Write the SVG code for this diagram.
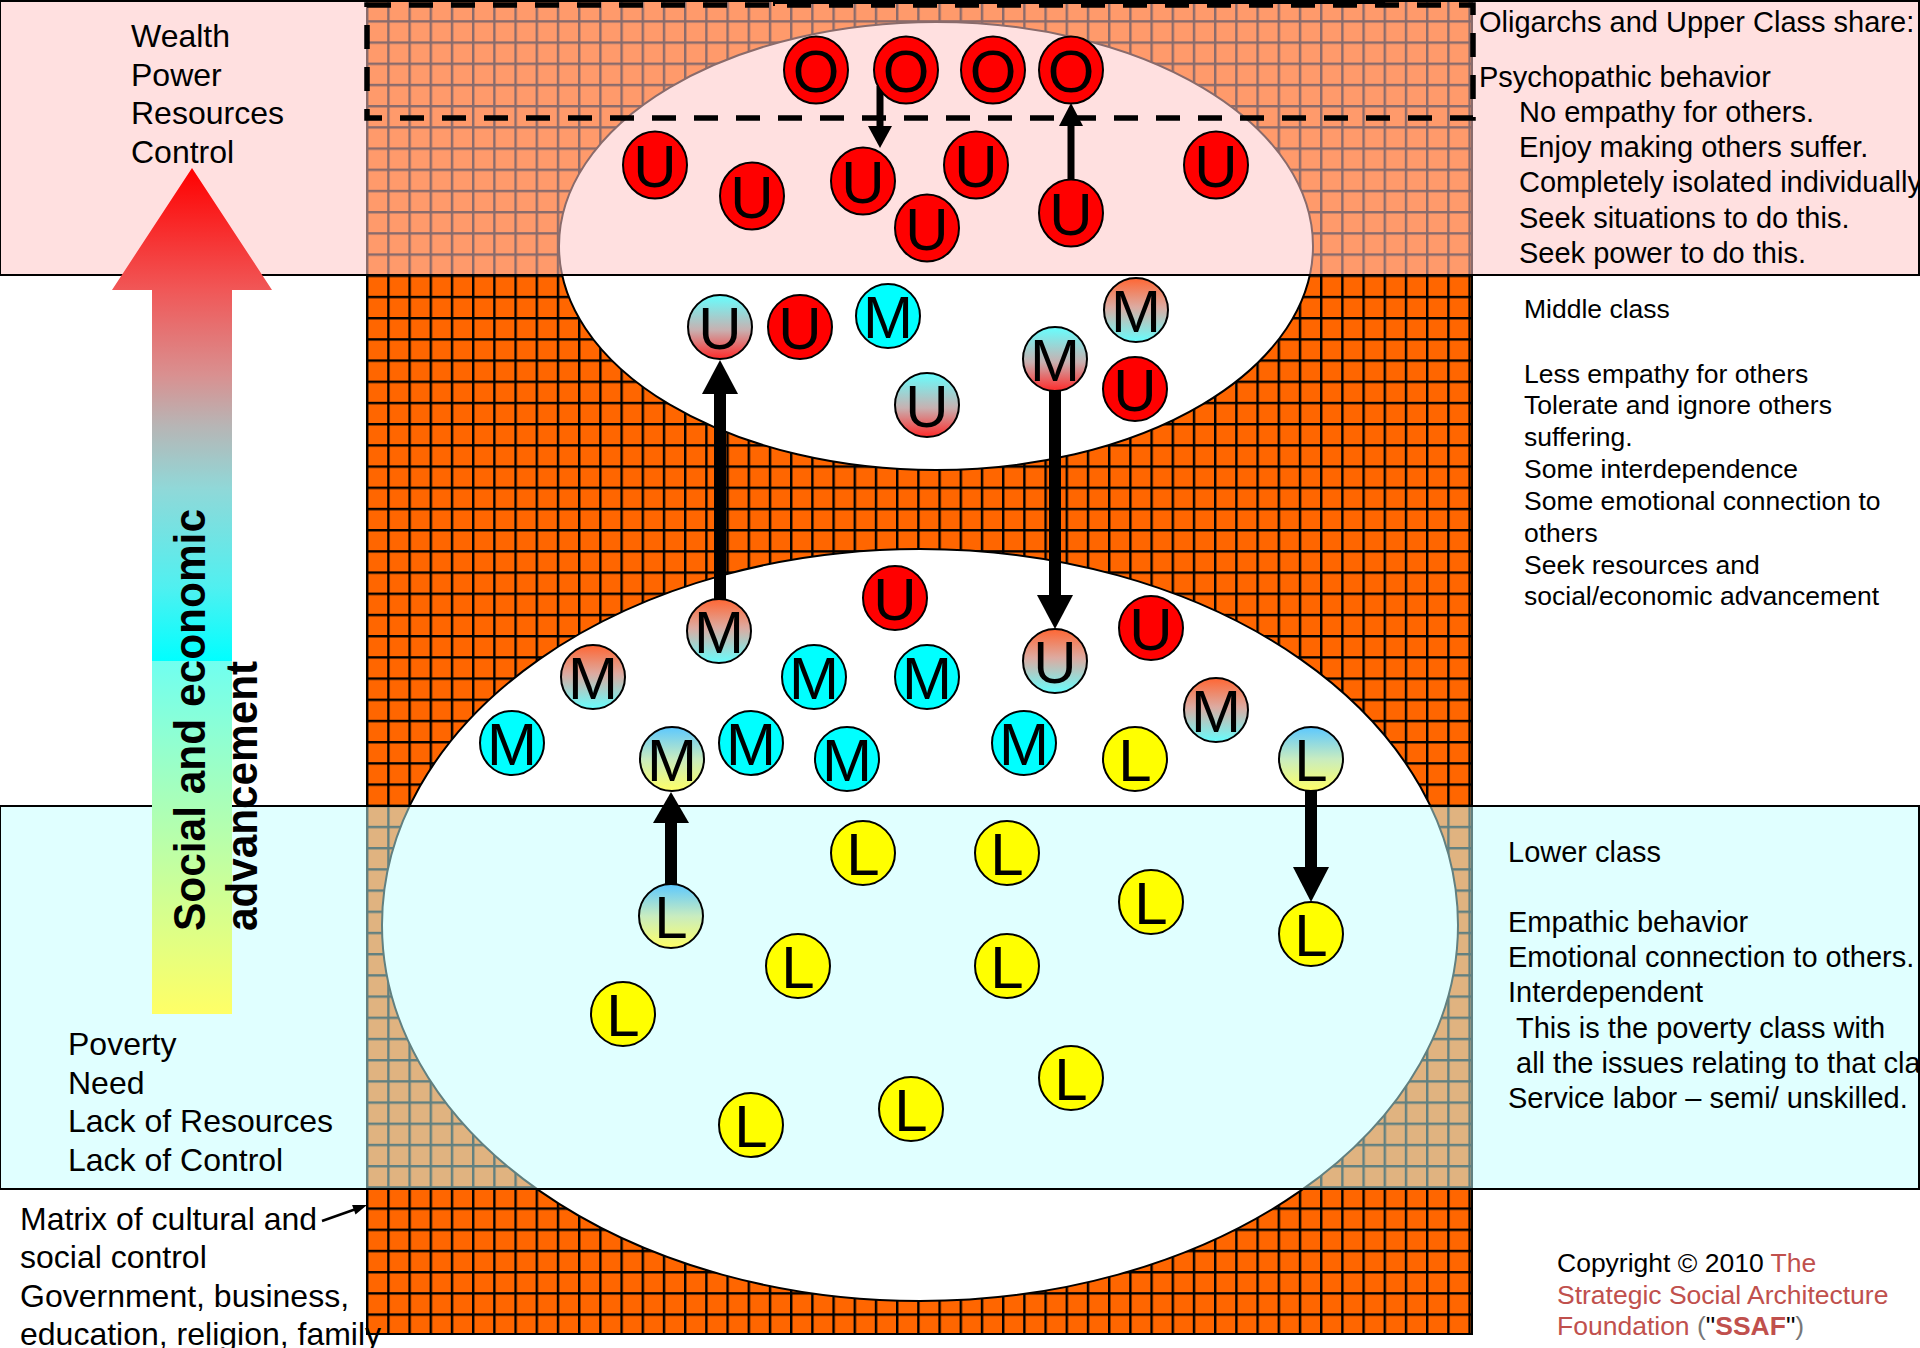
<svg xmlns="http://www.w3.org/2000/svg" width="1920" height="1348" viewBox="0 0 1920 1348">
<style>
.t{font-family:"Liberation Sans",Arial,sans-serif;fill:#000}
.f32{font-size:32px}
.f29{font-size:29px}
.f26{font-size:26.5px}
.nd circle,.nd ellipse{stroke:#000;stroke-width:2}
.lt{font-family:"Liberation Sans",Arial,sans-serif;font-size:60px;text-anchor:middle;fill:#000}
.red{fill:#FF0000}
.cy{fill:#00FFFF}
.ye{fill:#FFFF00}
.oc{fill:url(#gOC)}
.cr{fill:url(#gCR)}
.by{fill:url(#gBY)}
.ar{fill:#000;stroke:none}
.sh{stroke:#000;fill:none}
</style>
<defs>
<pattern id="grid" patternUnits="userSpaceOnUse" x="366" y="-1" width="21.2" height="21.2">
<rect width="21.2" height="21.2" fill="#FF6600"/>
<path d="M0 1.2H21.2M1.2 0V21.2" stroke="#000" stroke-width="2.4" fill="none"/>
</pattern>
<linearGradient id="gOC" x1="0" y1="0" x2="0" y2="1"><stop offset="0" stop-color="#FF6633"/><stop offset="0.45" stop-color="#DDAAA0"/><stop offset="1" stop-color="#66FFFF"/></linearGradient>
<linearGradient id="gCR" x1="0" y1="0" x2="0" y2="1"><stop offset="0" stop-color="#66FFFF"/><stop offset="0.55" stop-color="#C8B0B0"/><stop offset="1" stop-color="#FF2A2A"/></linearGradient>
<linearGradient id="gBY" x1="0" y1="0" x2="0" y2="1"><stop offset="0" stop-color="#5CC8FF"/><stop offset="0.5" stop-color="#C8ECC0"/><stop offset="1" stop-color="#FFFF66"/></linearGradient>
<linearGradient id="gA" gradientUnits="userSpaceOnUse" x1="0" y1="168" x2="0" y2="661"><stop offset="0" stop-color="#FF0000"/><stop offset="0.25" stop-color="#F05858"/><stop offset="0.42" stop-color="#D99090"/><stop offset="0.52" stop-color="#B8B4B4"/><stop offset="0.65" stop-color="#90D8D8"/><stop offset="0.85" stop-color="#50F0F0"/><stop offset="1" stop-color="#00FFFF"/></linearGradient>
<linearGradient id="gB" gradientUnits="userSpaceOnUse" x1="0" y1="661" x2="0" y2="1014"><stop offset="0" stop-color="#70FFF0"/><stop offset="1" stop-color="#FFFF66"/></linearGradient>
</defs>
<rect width="1920" height="1348" fill="#fff"/>
<g id="matrix">
<rect x="367" y="0" width="1105" height="1334" fill="url(#grid)" stroke="#000" stroke-width="2"/>
</g>
<g id="upper-ellipse"><ellipse cx="936" cy="246" rx="377" ry="224" fill="#fff" stroke="#000" stroke-width="2"/></g>
<g id="lower-ellipse"><ellipse cx="920" cy="925" rx="538" ry="376" fill="#fff" stroke="#000" stroke-width="2"/></g>
<g id="upper-band"><rect x="0" y="1" width="1919" height="274" fill="#FFC5C5" fill-opacity="0.54" stroke="#000" stroke-width="2"/></g>
<g id="lower-band"><rect x="0" y="806" width="1919" height="383" fill="#C1FFFF" fill-opacity="0.5" stroke="#000" stroke-width="2"/></g>
<path d="M774 0V6M774 3H1384M1384 0V6" stroke="#000" stroke-width="2" fill="none"/>
<g id="oligarch-box"><rect x="367" y="5" width="1106" height="113" fill="none" stroke="#000" stroke-width="5.5" stroke-dasharray="24 18"/></g>

<g id="advancement-arrow">
<polygon points="192,168 272,290 232,290 232,661 152,661 152,290 112,290" fill="url(#gA)"/>
<rect x="152" y="661" width="80" height="353" fill="url(#gB)"/>
<text class="t" font-weight="bold" font-size="44" transform="translate(205,931) rotate(-90)" textLength="422" lengthAdjust="spacingAndGlyphs">Social and economic</text>
<text class="t" font-weight="bold" font-size="44" transform="translate(257,931) rotate(-90)" textLength="270" lengthAdjust="spacingAndGlyphs">advancement</text>
</g>

<g id="connectors">
<line class="sh" x1="720" y1="599" x2="720" y2="392" stroke-width="12"/>
<polygon class="ar" points="720,360 738,394 702,394"/>
<line class="sh" x1="1055" y1="391" x2="1055" y2="597" stroke-width="12"/>
<polygon class="ar" points="1055,629 1073,595 1037,595"/>
<line class="sh" x1="671" y1="884" x2="671" y2="821" stroke-width="12"/>
<polygon class="ar" points="671,792 689,823 653,823"/>
<line class="sh" x1="1311" y1="791" x2="1311" y2="869" stroke-width="12"/>
<polygon class="ar" points="1311,902 1329,867 1293,867"/>
<line class="sh" x1="880" y1="86" x2="880" y2="128" stroke-width="7"/>
<polygon class="ar" points="880,148 892,126 868,126"/>
<line class="sh" x1="1071" y1="181" x2="1071" y2="124" stroke-width="7"/>
<polygon class="ar" points="1071,103 1083,126 1059,126"/>
<line class="sh" x1="322" y1="1221" x2="356" y2="1209" stroke-width="2.5"/>
<polygon class="ar" points="367,1205 355.5,1214.4 352.1,1205"/>
</g>

<g id="oligarchs">
<g id="o1" class="nd"><ellipse class="red" cx="816" cy="70" rx="32" ry="33.5"/><text class="lt" x="816" y="91.5">O</text></g>
<g id="o2" class="nd"><ellipse class="red" cx="906" cy="70" rx="32" ry="33.5"/><text class="lt" x="906" y="91.5">O</text></g>
<g id="o3" class="nd"><ellipse class="red" cx="993" cy="70" rx="32" ry="33.5"/><text class="lt" x="993" y="91.5">O</text></g>
<g id="o4" class="nd"><ellipse class="red" cx="1071" cy="70" rx="32" ry="33.5"/><text class="lt" x="1071" y="91.5">O</text></g>
</g>
<g id="upper-class">
<g id="u1" class="nd"><ellipse class="red" cx="655" cy="165" rx="32" ry="33.5"/><text class="lt" x="655" y="186.5">U</text></g>
<g id="u2" class="nd"><ellipse class="red" cx="752" cy="196" rx="32" ry="33.5"/><text class="lt" x="752" y="217.5">U</text></g>
<g id="u3" class="nd"><ellipse class="red" cx="863" cy="181" rx="32" ry="33.5"/><text class="lt" x="863" y="202.5">U</text></g>
<g id="u4" class="nd"><ellipse class="red" cx="927" cy="228" rx="32" ry="33.5"/><text class="lt" x="927" y="249.5">U</text></g>
<g id="u5" class="nd"><ellipse class="red" cx="976" cy="165" rx="32" ry="33.5"/><text class="lt" x="976" y="186.5">U</text></g>
<g id="u6" class="nd"><ellipse class="red" cx="1071" cy="213" rx="32" ry="33.5"/><text class="lt" x="1071" y="234.5">U</text></g>
<g id="u7" class="nd"><ellipse class="red" cx="1216" cy="165" rx="32" ry="33.5"/><text class="lt" x="1216" y="186.5">U</text></g>
<g id="u8" class="nd"><circle class="cr" cx="720" cy="327" r="32"/><text class="lt" x="720" y="348.5">U</text></g>
<g id="u9" class="nd"><circle class="red" cx="800" cy="327" r="32"/><text class="lt" x="800" y="348.5">U</text></g>
<g id="m1" class="nd"><circle class="cy" cx="888" cy="316" r="32"/><text class="lt" x="888" y="337.5">M</text></g>
<g id="m2" class="nd"><circle class="oc" cx="1136" cy="310" r="32"/><text class="lt" x="1136" y="331.5">M</text></g>
<g id="m3" class="nd"><circle class="cr" cx="1055" cy="359" r="32"/><text class="lt" x="1055" y="380.5">M</text></g>
<g id="u10" class="nd"><circle class="red" cx="1135" cy="389" r="32"/><text class="lt" x="1135" y="410.5">U</text></g>
<g id="u11" class="nd"><circle class="cr" cx="927" cy="405" r="32"/><text class="lt" x="927" y="426.5">U</text></g>
</g>
<g id="middle-class">
<g id="m4" class="nd"><circle class="oc" cx="719" cy="631" r="32"/><text class="lt" x="719" y="652.5">M</text></g>
<g id="u12" class="nd"><circle class="red" cx="895" cy="598" r="32"/><text class="lt" x="895" y="619.5">U</text></g>
<g id="m5" class="nd"><circle class="oc" cx="593" cy="677" r="32"/><text class="lt" x="593" y="698.5">M</text></g>
<g id="m6" class="nd"><circle class="cy" cx="814" cy="677" r="32"/><text class="lt" x="814" y="698.5">M</text></g>
<g id="m7" class="nd"><circle class="cy" cx="927" cy="677" r="32"/><text class="lt" x="927" y="698.5">M</text></g>
<g id="u13" class="nd"><circle class="oc" cx="1055" cy="661" r="32"/><text class="lt" x="1055" y="682.5">U</text></g>
<g id="u14" class="nd"><circle class="red" cx="1151" cy="628" r="32"/><text class="lt" x="1151" y="649.5">U</text></g>
<g id="m8" class="nd"><circle class="cy" cx="512" cy="743" r="32"/><text class="lt" x="512" y="764.5">M</text></g>
<g id="m9" class="nd"><circle class="by" cx="672" cy="759" r="32"/><text class="lt" x="672" y="780.5">M</text></g>
<g id="m10" class="nd"><circle class="cy" cx="751" cy="743" r="32"/><text class="lt" x="751" y="764.5">M</text></g>
<g id="m11" class="nd"><circle class="cy" cx="847" cy="759" r="32"/><text class="lt" x="847" y="780.5">M</text></g>
<g id="m12" class="nd"><circle class="cy" cx="1024" cy="743" r="32"/><text class="lt" x="1024" y="764.5">M</text></g>
<g id="l1" class="nd"><circle class="ye" cx="1135" cy="759" r="32"/><text class="lt" x="1135" y="780.5">L</text></g>
<g id="m13" class="nd"><circle class="oc" cx="1216" cy="710" r="32"/><text class="lt" x="1216" y="731.5">M</text></g>
<g id="l2" class="nd"><circle class="by" cx="1311" cy="759" r="32"/><text class="lt" x="1311" y="780.5">L</text></g>
</g>
<g id="lower-class">
<g id="l3" class="nd"><circle class="by" cx="671" cy="916" r="32"/><text class="lt" x="671" y="937.5">L</text></g>
<g id="l4" class="nd"><circle class="ye" cx="863" cy="853" r="32"/><text class="lt" x="863" y="874.5">L</text></g>
<g id="l5" class="nd"><circle class="ye" cx="1007" cy="853" r="32"/><text class="lt" x="1007" y="874.5">L</text></g>
<g id="l6" class="nd"><circle class="ye" cx="1151" cy="902" r="32"/><text class="lt" x="1151" y="923.5">L</text></g>
<g id="l7" class="nd"><circle class="ye" cx="1311" cy="934" r="32"/><text class="lt" x="1311" y="955.5">L</text></g>
<g id="l8" class="nd"><circle class="ye" cx="798" cy="966" r="32"/><text class="lt" x="798" y="987.5">L</text></g>
<g id="l9" class="nd"><circle class="ye" cx="1007" cy="966" r="32"/><text class="lt" x="1007" y="987.5">L</text></g>
<g id="l10" class="nd"><circle class="ye" cx="623" cy="1014" r="32"/><text class="lt" x="623" y="1035.5">L</text></g>
<g id="l11" class="nd"><circle class="ye" cx="1071" cy="1078" r="32"/><text class="lt" x="1071" y="1099.5">L</text></g>
<g id="l12" class="nd"><circle class="ye" cx="751" cy="1125" r="32"/><text class="lt" x="751" y="1146.5">L</text></g>
<g id="l13" class="nd"><circle class="ye" cx="911" cy="1109" r="32"/><text class="lt" x="911" y="1130.5">L</text></g>
</g>

<g id="label-wealth" class="t f32">
<text x="131" y="47">Wealth</text>
<text x="131" y="85.5">Power</text>
<text x="131" y="124">Resources</text>
<text x="131" y="162.5">Control</text>
</g>
<g id="label-poverty" class="t f32">
<text x="68" y="1055">Poverty</text>
<text x="68" y="1093.5">Need</text>
<text x="68" y="1132">Lack of Resources</text>
<text x="68" y="1170.5">Lack of Control</text>
</g>
<g id="label-matrix" class="t f32">
<text x="20" y="1230">Matrix of cultural and</text>
<text x="20" y="1268">social control</text>
<text x="20" y="1307">Government, business,</text>
<text x="20" y="1345">education, religion, family</text>
</g>
<g id="label-upper" class="t f29">
<text x="1479" y="32">Oligarchs and Upper Class share:</text>
<text x="1479" y="87">Psychopathic behavior</text>
<text x="1519" y="122">No empathy for others.</text>
<text x="1519" y="157">Enjoy making others suffer.</text>
<text x="1519" y="192">Completely isolated individually</text>
<text x="1519" y="228">Seek situations to do this.</text>
<text x="1519" y="263">Seek power to do this.</text>
</g>
<g id="label-middle" class="t f26">
<text x="1524" y="318">Middle class</text>
<text x="1524" y="383">Less empathy for others</text>
<text x="1524" y="414">Tolerate and ignore others</text>
<text x="1524" y="446">suffering.</text>
<text x="1524" y="478">Some interdependence</text>
<text x="1524" y="510">Some emotional connection to</text>
<text x="1524" y="542">others</text>
<text x="1524" y="574">Seek resources and</text>
<text x="1524" y="605">social/economic advancement</text>
</g>
<g id="label-lower" class="t f29">
<text x="1508" y="862">Lower class</text>
<text x="1508" y="932">Empathic behavior</text>
<text x="1508" y="967">Emotional connection to others.</text>
<text x="1508" y="1002">Interdependent</text>
<text x="1516" y="1038">This is the poverty class with</text>
<text x="1516" y="1073">all the issues relating to that class.</text>
<text x="1508" y="1108">Service labor – semi/ unskilled.</text>
</g>
<g id="copyright" class="t f26">
<text x="1557" y="1272">Copyright © 2010 <tspan fill="#C0504D">The</tspan></text>
<text x="1557" y="1304" fill="#C0504D">Strategic Social Architecture</text>
<text x="1557" y="1335"><tspan fill="#C0504D">Foundation </tspan><tspan fill="#777">(</tspan>"<tspan fill="#C0504D" font-weight="bold">SSAF</tspan>"<tspan fill="#777">)</tspan></text>
</g>
</svg>
